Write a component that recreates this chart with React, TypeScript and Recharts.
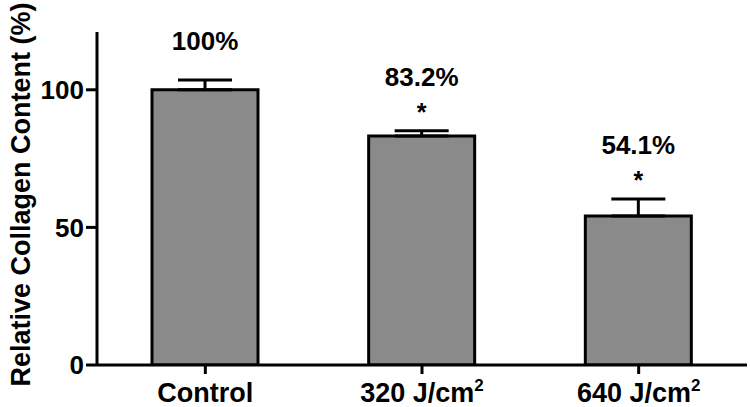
import React from 'react';
import { BarChart, Bar, XAxis, YAxis, ErrorBar } from 'recharts';

const categories = ['Control', '320 J/cm', '640 J/cm'];
const categorySup = ['', '2', '2'];
const values = [100, 83.2, 54.1];
const errors = [3.6, 1.9, 6.2];
const valueLabels = ['100%', '83.2%', '54.1%'];
const significant = [false, true, true];
const yTicks = [0, 50, 100];
const yLabel = 'Relative Collagen Content (%)';

const FONT = '"Liberation Sans", Arial, Helvetica, sans-serif';

const data = categories.map((c, i) => ({
  name: c,
  value: values[i],
  err: [0, errors[i]],
}));

const XTick = (props: any) => {
  const { x, y, payload, index } = props;
  const i = typeof index === 'number' ? index : categories.indexOf(payload.value);
  return (
    <text
      x={x}
      y={y + 28}
      textAnchor="middle"
      fontFamily={FONT}
      fontWeight="bold"
      fontSize={27}
      fill="#000"
    >
      {payload.value}
      {categorySup[i] ? (
        <tspan fontSize={17} dy={-11}>
          {categorySup[i]}
        </tspan>
      ) : null}
    </text>
  );
};

const BarLabel = (props: any) => {
  const { x, y, width, height, index } = props;
  const vb = props.viewBox || {};
  const bx = x ?? vb.x;
  const by = y ?? vb.y;
  const bw = width ?? vb.width;
  const bh = Math.abs(height ?? vb.height);
  const v = values[index];
  const capY = by - errors[index] * (bh / v);
  const cx = bx + bw / 2;
  const sig = significant[index];
  return (
    <g>
      <text
        x={cx}
        y={capY - (sig ? 45 : 30)}
        textAnchor="middle"
        fontFamily={FONT}
        fontWeight="bold"
        fontSize={26}
        fill="#000"
      >
        {valueLabels[index]}
      </text>
      {sig ? (
        <text
          x={cx}
          y={capY - 10}
          textAnchor="middle"
          fontFamily={FONT}
          fontWeight="bold"
          fontSize={25}
          fill="#000"
        >
          *
        </text>
      ) : null}
    </g>
  );
};

const YLabel = (props: any) => {
  const vb = props.viewBox || { x: 0, y: 32, width: 97, height: 333 };
  const cx = vb.x + 30;
  const cy = vb.y + vb.height / 2 - 4;
  return (
    <text
      x={cx}
      y={cy}
      transform={`rotate(-90, ${cx}, ${cy})`}
      textAnchor="middle"
      fontFamily={FONT}
      fontWeight="bold"
      fontSize={27}
      fill="#000"
    >
      {yLabel}
    </text>
  );
};

export default function App() {
  return (
    <div style={{ position: 'absolute', left: 0, top: 0, background: '#fff' }}>
      <BarChart
        width={750}
        height={407}
        data={data}
        margin={{ top: 32, right: 3, bottom: 0, left: 0 }}
        barCategoryGap={0}
      >
        <XAxis
          dataKey="name"
          height={42}
          axisLine={{ stroke: '#000', strokeWidth: 3 }}
          tickLine={{ stroke: '#000', strokeWidth: 3 }}
          tickSize={9}
          tickMargin={0}
          tick={<XTick />}
          interval={0}
        />
        <YAxis
          width={97}
          domain={[0, 121]}
          ticks={yTicks}
          allowDataOverflow
          axisLine={{ stroke: '#000', strokeWidth: 3 }}
          tickLine={{ stroke: '#000', strokeWidth: 3 }}
          tickSize={11}
          tickMargin={2}
          tick={{ fill: '#000', fontFamily: FONT, fontWeight: 'bold', fontSize: 26 }}
          label={<YLabel />}
        />
        <Bar
          dataKey="value"
          fill="#8a8a8a"
          stroke="#000"
          strokeWidth={3}
          barSize={106}
          isAnimationActive={false}
          label={<BarLabel />}
        >
          <ErrorBar
            dataKey="err"
            direction="y"
            width={27}
            stroke="#000"
            strokeWidth={3}
            isAnimationActive={false}
          />
        </Bar>
      </BarChart>
    </div>
  );
}
